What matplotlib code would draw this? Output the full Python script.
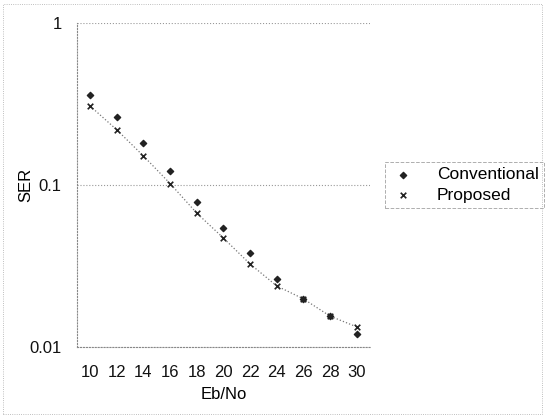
import numpy as np
import matplotlib.pyplot as plt
from matplotlib.patches import Rectangle

plt.rcParams['font.family'] = ['Liberation Sans', 'DejaVu Sans']

ebno = [10, 12, 14, 16, 18, 20, 22, 24, 26, 28, 30]
ser_conv = [0.36, 0.263, 0.182, 0.122, 0.0785, 0.0543, 0.038, 0.0263, 0.0198, 0.0155, 0.012]
ser_prop = [0.307, 0.219, 0.151, 0.102, 0.067, 0.047, 0.0325, 0.0238, 0.0198, 0.0155, 0.0133]

fig = plt.figure(figsize=(5.45, 4.19), dpi=100)
ax = fig.add_axes([0.141, 0.172, 0.538, 0.773])

ax.plot(ebno, ser_prop, ls=':', color='#777777', lw=0.9, zorder=1)
ax.scatter(ebno, ser_conv, marker='D', s=10, color='#222222', label='Conventional', zorder=3)
ax.scatter(ebno, ser_prop, marker='x', s=16, color='#222222', linewidths=1.2, label='Proposed', zorder=3)

ax.set_yscale('log')
ax.set_ylim(0.01, 1)
ax.set_xlim(9, 31)
ax.set_xticks(ebno)
ax.set_yticks([0.01, 0.1, 1])
ax.set_yticklabels(['0.01', '0.1', '1'])
ax.minorticks_off()
ax.tick_params(axis='both', length=0, labelsize=12, colors='#111111')
ax.tick_params(axis='y', pad=11)
ax.tick_params(axis='x', pad=13)
ax.grid(axis='y', ls=':', color='#999999', lw=0.8)

for side in ['top', 'right']:
    ax.spines[side].set_visible(False)
for side in ['left', 'bottom']:
    ax.spines[side].set_linestyle(':')
    ax.spines[side].set_color('#888888')
    ax.spines[side].set_linewidth(0.8)

ax.set_xlabel('Eb/No', fontsize=12, labelpad=5)
ax.set_ylabel('SER', fontsize=12, labelpad=-3)

leg = ax.legend(loc='center left', bbox_to_anchor=(1.02, 0.50), frameon=True,
                fontsize=12.5, handletextpad=1.2, borderpad=0.3, fancybox=False,
                labelspacing=0.3, handlelength=1.5)
leg.get_frame().set_edgecolor('#999999')
leg.get_frame().set_linestyle('--')
leg.get_frame().set_linewidth(0.7)

fig.patches.append(Rectangle((0.005, 0.012), 0.99, 0.978, transform=fig.transFigure,
                             fill=False, ls=':', lw=0.6, ec='#aaaaaa'))

fig.savefig('out.png', dpi=100)
